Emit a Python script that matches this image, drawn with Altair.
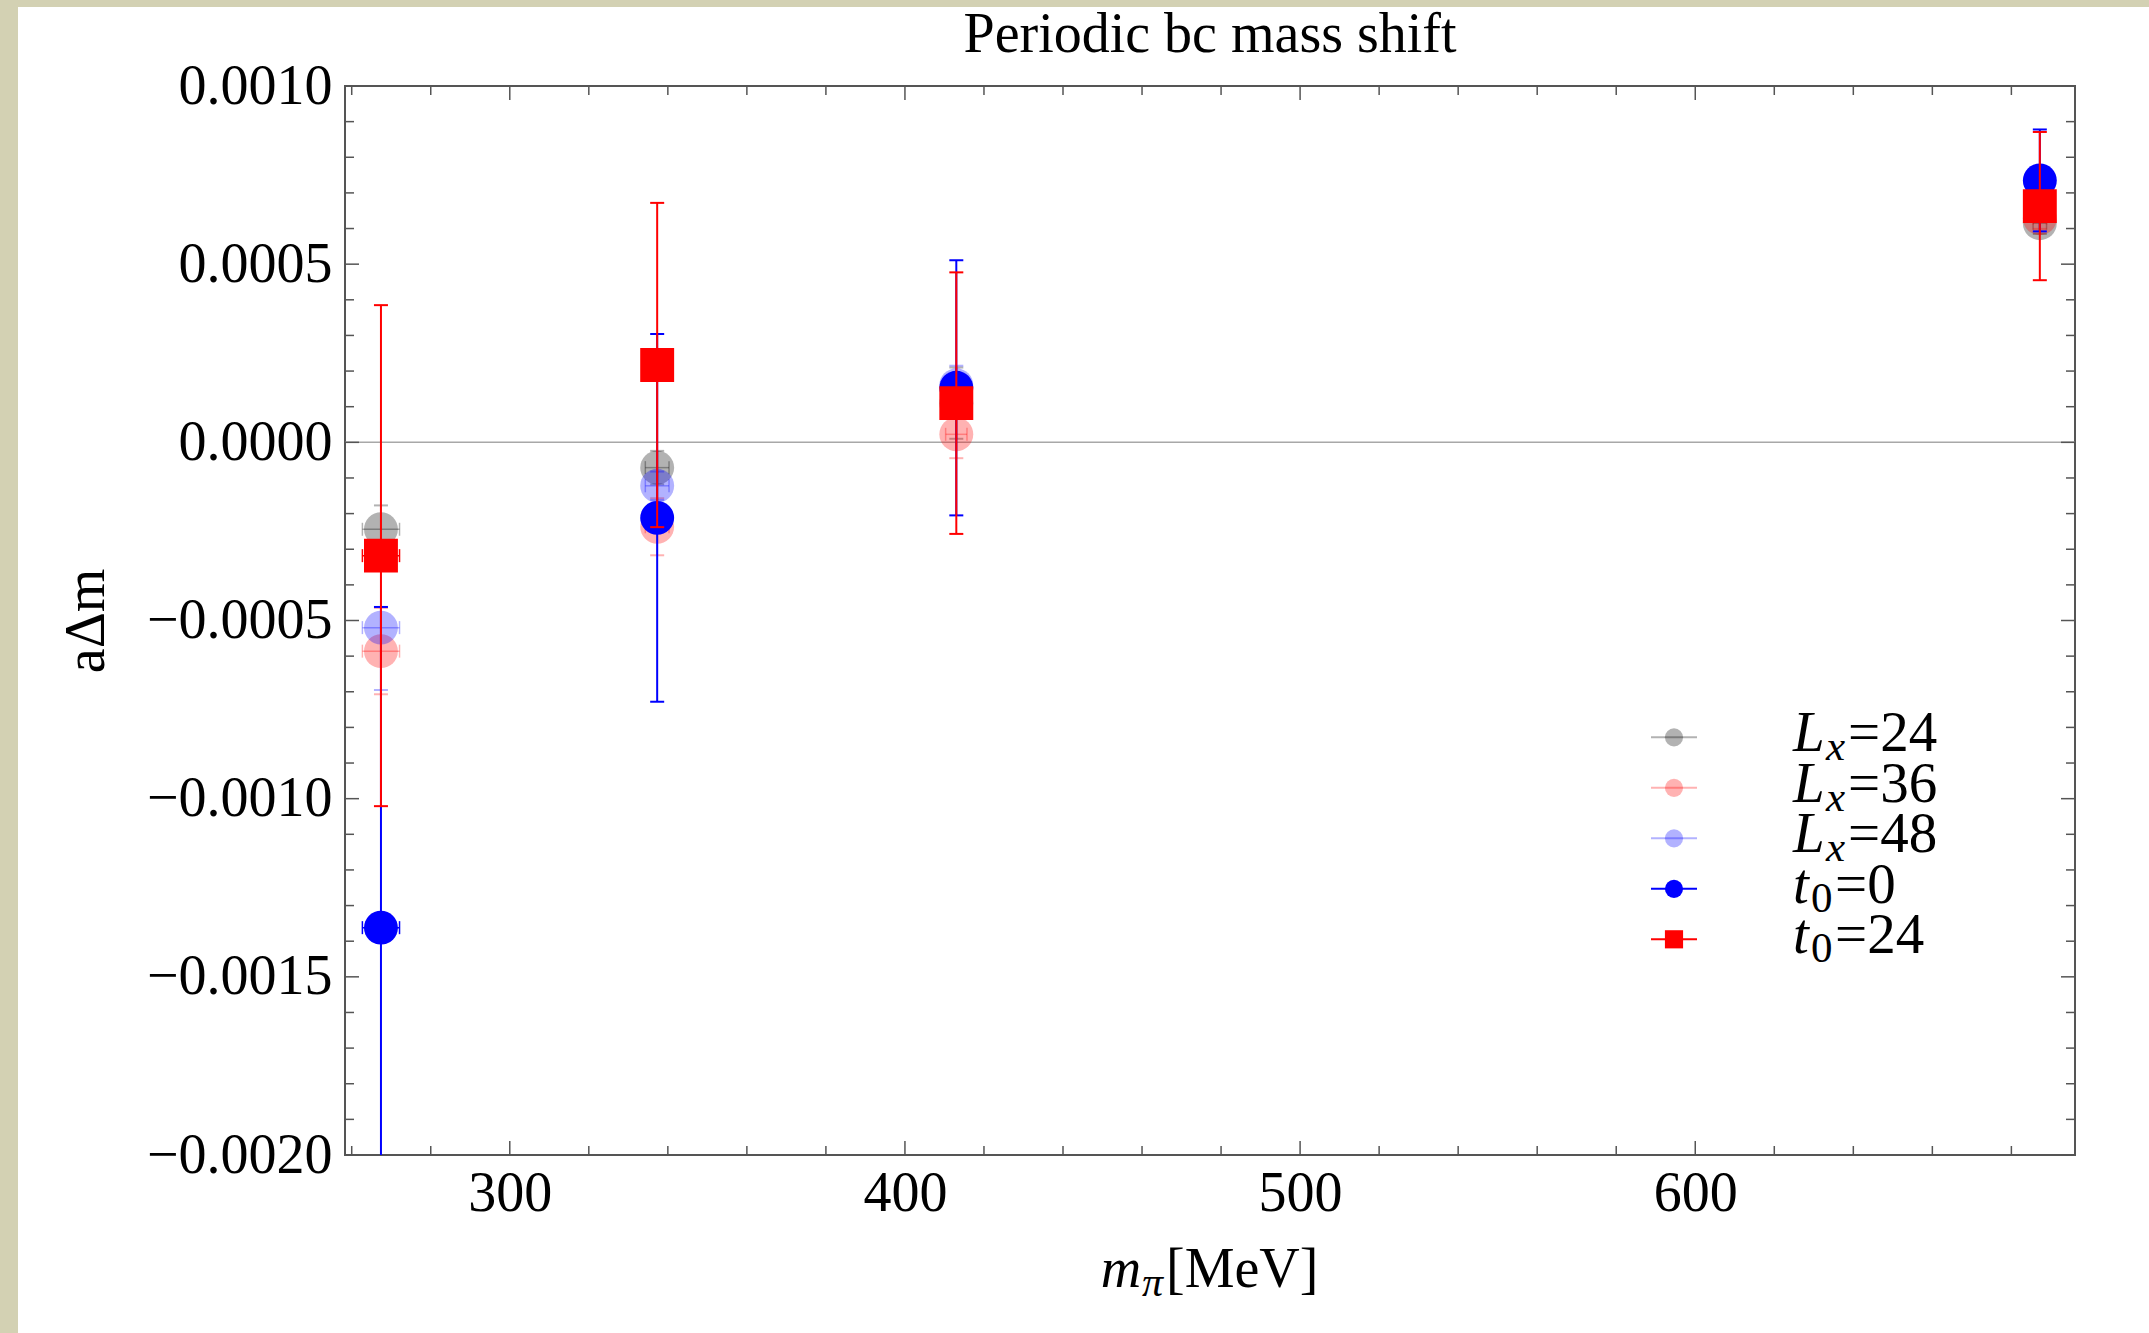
import altair as alt
import pandas as pd

# ---------------- data ----------------
series_names = ["Lx=24", "Lx=36", "Lx=48", "t0=0", "t0=24"]
series_colors = ["#000000", "#ff0000", "#0000ff", "#0000ff", "#ff0000"]
series_opacity = [0.3, 0.3, 0.3, 1.0, 1.0]
series_shapes = ["circle", "circle", "circle", "circle", "square"]

m_pi = [267.4, 337.3, 413.0, 687.2]
m_pi_err = [4.7, 3.0, 2.7, 1.7]

dm_Lx24 = [-0.000244, -0.000071, 0.000110, 0.000615]
err_Lx24 = [0.000067, 0.000047, 0.000100, 0.000030]
dm_Lx36 = [-0.000586, -0.000237, 0.0000225, 0.000629]
err_Lx36 = [0.000121, 0.000080, 0.000067, 0.000030]
dm_Lx48 = [-0.000520, -0.000122, 0.000160, None]
err_Lx48 = [0.000175, 0.000040, 0.000055, None]
dm_t0_0 = [-0.001362, -0.000212, 0.000153, 0.000735]
err_t0_0 = [0.000900, 0.000516, 0.000358, 0.000143]
dm_t0_24 = [-0.000318, 0.000217, 0.000110, 0.000663]
err_t0_24 = [0.000703, 0.000455, 0.000367, 0.000208]

x_major = [300, 400, 500, 600]
x_minor = [260, 280, 320, 340, 360, 380, 420, 440, 460, 480,
           520, 540, 560, 580, 620, 640, 660, 680]
y_major = [-0.0020, -0.0015, -0.0010, -0.0005, 0.0, 0.0005, 0.0010]
y_minor_e4 = [-19, -18, -17, -16, -14, -13, -12, -11, -9, -8, -7, -6,
              -4, -3, -2, -1, 1, 2, 3, 4, 6, 7, 8, 9]
y_minor = [v * 1e-4 for v in y_minor_e4]

legend_main = ["L", "L", "L", "t", "t"]
legend_sub = ["x", "x", "x", "0", "0"]
legend_rest = ["=24", "=36", "=48", "=0", "=24"]
legend_group = ["L", "L", "L", "t", "t"]

title_text = "Periodic bc mass shift"
y_title = "aΔm"
x_title_parts = ["m", "π", "[MeV]"]

# ---------------- tables ----------------
all_dm = [dm_Lx24, dm_Lx36, dm_Lx48, dm_t0_0, dm_t0_24]
all_err = [err_Lx24, err_Lx36, err_Lx48, err_t0_0, err_t0_24]
rows = []
for s, dms, errs in zip(series_names, all_dm, all_err):
    for m, me, d, e in zip(m_pi, m_pi_err, dms, errs):
        if d is None:
            continue
        rows.append({"series": s, "m": m, "merr": me, "dm": d, "err": e})
df = pd.DataFrame(rows)

df_leg = pd.DataFrame({"series": series_names, "main": legend_main,
                       "sub": legend_sub, "rest": legend_rest,
                       "group": legend_group})

W, H = 1730, 1069
FONT = "Liberation Serif"
FRAME = "#555555"

xscale = alt.Scale(domain=[258.3, 696.1], nice=False, zero=False)
yscale = alt.Scale(domain=[-0.002, 0.001], nice=False, zero=False)
xaxis = alt.Axis(values=x_major, format="d", labelFont=FONT, labelFontSize=56,
                 labelColor="black", labelPadding=11, ticks=False, tickSize=0,
                 domain=False, grid=False, title=None, labelFlush=False,
                 labelOverlap=False, labelLimit=400)
yaxis = alt.Axis(values=y_major, format=".4f", labelFont=FONT, labelFontSize=56,
                 labelColor="black", labelPadding=13, ticks=False, tickSize=0,
                 domain=False, grid=False, labelFlush=False, labelOverlap=False,
                 labelLimit=400,
                 title=y_title, titleFont=FONT, titleFontSize=56,
                 titleFontWeight="normal", titleColor="black", titleAngle=270,
                 titleX=-242, titleY=H / 2, titleAlign="center",
                 titleBaseline="alphabetic")

color_scale = alt.Scale(domain=series_names, range=series_colors)
shape_scale = alt.Scale(domain=series_names, range=series_shapes)
COL = alt.Color("series:N", scale=color_scale, legend=None)
SH = alt.Shape("series:N", scale=shape_scale, legend=None)

def X(field):
    return alt.X(field, type="quantitative", scale=xscale, axis=xaxis)

def Y(field):
    return alt.Y(field, type="quantitative", scale=yscale, axis=yaxis)

one = pd.DataFrame({"k": [0]})
layers = []

# page decoration: beige strips at left and top
layers.append(alt.Chart(one).mark_rect(color="#d3d1b3").encode(
    x=alt.value(-345), x2=alt.value(-327), y=alt.value(-86), y2=alt.value(1247)))
layers.append(alt.Chart(one).mark_rect(color="#d3d1b3").encode(
    x=alt.value(-345), x2=alt.value(1804), y=alt.value(-86), y2=alt.value(-79)))

# title
layers.append(alt.Chart(pd.DataFrame({"t": [title_text]})).mark_text(
    font=FONT, fontSize=56, align="center", baseline="alphabetic",
    color="black").encode(text="t:N", x=alt.value(W / 2), y=alt.value(-34)))

# zero line
layers.append(alt.Chart(pd.DataFrame({"v": [0.0]})).mark_rule(
    color="#a8a8a8", strokeWidth=1.5).encode(y=Y("v")))

# inward frame ticks
xmaj = alt.Chart(pd.DataFrame({"v": x_major}))
xmin = alt.Chart(pd.DataFrame({"v": x_minor}))
ymaj = alt.Chart(pd.DataFrame({"v": y_major}))
ymin = alt.Chart(pd.DataFrame({"v": y_minor}))
for src, ln in ((xmaj, 14), (xmin, 9)):
    layers.append(src.mark_rule(color=FRAME, strokeWidth=1.5).encode(
        x=X("v"), y=alt.value(H), y2=alt.value(H - ln)))
    layers.append(src.mark_rule(color=FRAME, strokeWidth=1.5).encode(
        x=X("v"), y=alt.value(0), y2=alt.value(ln)))
for src, ln in ((ymaj, 14), (ymin, 9)):
    layers.append(src.mark_rule(color=FRAME, strokeWidth=1.5).encode(
        y=Y("v"), x=alt.value(0), x2=alt.value(ln)))
    layers.append(src.mark_rule(color=FRAME, strokeWidth=1.5).encode(
        y=Y("v"), x=alt.value(W), x2=alt.value(W - ln)))

# data series, each drawn completely before the next
for s, op in zip(series_names, series_opacity):
    OP = alt.value(op)
    base = alt.Chart(df).transform_filter(alt.datum.series == s).transform_calculate(
        lo="datum.dm - datum.err", hi="datum.dm + datum.err",
        xlo="datum.m - datum.merr", xhi="datum.m + datum.merr")
    layers.append(base.mark_rule(strokeWidth=2, clip=True).encode(
        x=X("m"), y=Y("lo"), y2="hi:Q", color=COL, opacity=OP))
    layers.append(base.transform_fold(["lo", "hi"], as_=["end", "yv"]).mark_tick(
        orient="horizontal", size=14, thickness=2, clip=True).encode(
        x=X("m"), y=Y("yv"), color=COL, opacity=OP))
    layers.append(base.mark_rule(strokeWidth=1.5, clip=True).encode(
        x=X("xlo"), x2="xhi:Q", y=Y("dm"), color=COL, opacity=OP))
    layers.append(base.transform_fold(["xlo", "xhi"], as_=["end", "xv"]).mark_tick(
        orient="vertical", size=13, thickness=1.5, clip=True).encode(
        x=X("xv"), y=Y("dm"), color=COL, opacity=OP))
    layers.append(base.mark_point(filled=True, size=1150, strokeWidth=0).encode(
        x=X("m"), y=Y("dm"), shape=SH, color=COL, opacity=OP))

# x axis title  m_pi [MeV]
xt = pd.DataFrame({"t": x_title_parts})
layers.append(alt.Chart(xt).transform_filter(alt.datum.t == x_title_parts[0]).mark_text(
    font=FONT, fontSize=56, fontStyle="italic", align="left", baseline="alphabetic",
    color="black").encode(text="t:N", x=alt.value(755.7), y=alt.value(1200.7)))
layers.append(alt.Chart(xt).transform_filter(alt.datum.t == x_title_parts[1]).mark_text(
    font=FONT, fontSize=42, fontStyle="italic", align="left", baseline="alphabetic",
    color="black").encode(text="t:N", x=alt.value(797), y=alt.value(1210)))
layers.append(alt.Chart(xt).transform_filter(alt.datum.t == x_title_parts[2]).mark_text(
    font=FONT, fontSize=56, align="left", baseline="alphabetic",
    color="black").encode(text="t:N", x=alt.value(821), y=alt.value(1200.7)))

main = alt.layer(*layers)

# custom legend (with subscripts)
LY = alt.Y("series:N", sort=series_names, axis=None,
           scale=alt.Scale(type="point", domain=series_names,
                           range=[651.3, 853.3], padding=0))
leg = alt.Chart(df_leg)
leg_layers = []
for s, op in zip(series_names, series_opacity):
    ls = leg.transform_filter(alt.datum.series == s)
    leg_layers.append(ls.mark_rule(strokeWidth=2).encode(
        x=alt.value(1306), x2=alt.value(1352), y=LY, color=COL, opacity=alt.value(op)))
    leg_layers.append(ls.mark_point(filled=True, size=330, strokeWidth=0).encode(
        x=alt.value(1329), y=LY, shape=SH, color=COL, opacity=alt.value(op)))
leg_layers += [
    leg.mark_text(font=FONT, fontSize=57, fontStyle="italic", align="left",
                  baseline="alphabetic", dy=14, color="black").encode(
        x=alt.value(1448), y=LY, text="main:N"),
    leg.transform_filter(alt.datum.group == "L").mark_text(
        font=FONT, fontSize=43, fontStyle="italic", align="left",
        baseline="alphabetic", dy=23, color="black").encode(
        x=alt.value(1481), y=LY, text="sub:N"),
    leg.transform_filter(alt.datum.group == "t").mark_text(
        font=FONT, fontSize=43, align="left",
        baseline="alphabetic", dy=23, color="black").encode(
        x=alt.value(1466), y=LY, text="sub:N"),
    leg.transform_filter(alt.datum.group == "L").mark_text(
        font=FONT, fontSize=57, align="left", baseline="alphabetic", dy=14,
        color="black").encode(x=alt.value(1503), y=LY, text="rest:N"),
    leg.transform_filter(alt.datum.group == "t").mark_text(
        font=FONT, fontSize=57, align="left", baseline="alphabetic", dy=14,
        color="black").encode(x=alt.value(1490), y=LY, text="rest:N"),
]
legend = alt.layer(*leg_layers)

chart = alt.layer(main, legend).resolve_scale(y="independent").properties(
    width=W, height=H,
    padding={"left": 345, "top": 86, "right": 74, "bottom": 178},
    autosize=alt.AutoSizeParams(type="none"),
    background="white",
).configure_view(stroke=FRAME, strokeWidth=2)

chart.save("out.html", embed_options={"renderer": "svg", "actions": False})
